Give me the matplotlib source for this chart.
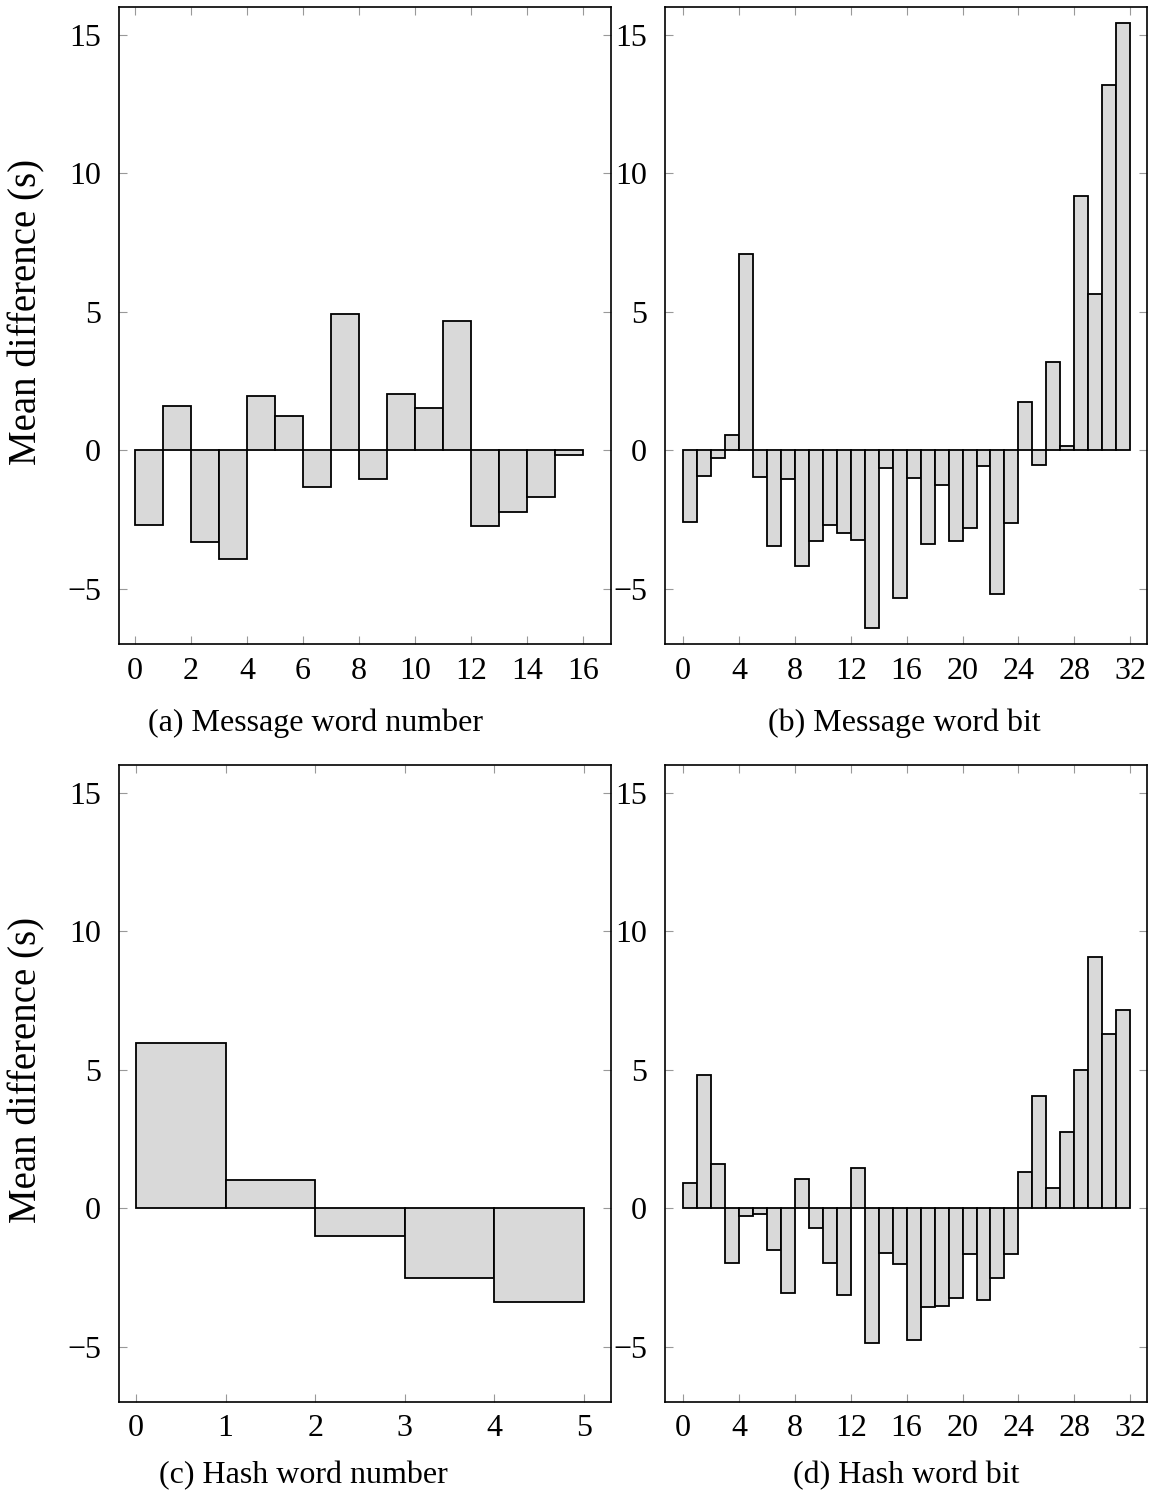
import numpy as np
import matplotlib
matplotlib.use('Agg')
import matplotlib.pyplot as plt

plt.rcParams['font.family'] = ['Liberation Serif', 'DejaVu Serif']
plt.rcParams['axes.unicode_minus'] = True

# (a) mean difference per message word number
msg_word = [-2.70, 1.59, -3.33, -3.94, 1.96, 1.24, -1.34, 4.90,
            -1.04, 2.02, 1.51, 4.66, -2.75, -2.23, -1.69, -0.18]

# (b) mean difference per message word bit
msg_bit = [-2.59, -0.94, -0.29, 0.54, 7.07, -0.96, -3.47, -1.04,
           -4.19, -3.28, -2.69, -3.00, -3.25, -6.42, -0.65, -5.34,
           -0.99, -3.39, -1.25, -3.29, -2.80, -0.56, -5.19, -2.64,
           1.74, -0.53, 3.17, 0.15, 9.16, 5.65, 13.20, 15.43]

# (c) mean difference per hash word number
hash_word = [5.96, 1.01, -0.99, -2.52, -3.40]

# (d) mean difference per hash word bit
hash_bit = [0.92, 4.80, 1.58, -1.98, -0.30, -0.22, -1.51, -3.08,
            1.04, -0.71, -1.99, -3.13, 1.45, -4.88, -1.63, -2.01,
            -4.77, -3.58, -3.52, -3.23, -1.64, -3.33, -2.53, -1.64,
            1.30, 4.06, 0.72, 2.75, 4.98, 9.07, 6.30, 7.16]

captions = ['(a) Message word number', '(b) Message word bit',
            '(c) Hash word number', '(d) Hash word bit']

fig = plt.figure(figsize=(11.55, 14.97), dpi=100)
W, H = 1155, 1497

def px_axes(l, t, r, b):
    return fig.add_axes([l / W, 1 - b / H, (r - l) / W, (b - t) / H])

panels = [
    (msg_word, (119, 7, 611, 644), (-0.57, 17.0), np.arange(0, 17, 2)),
    (msg_bit, (665, 7, 1147, 644), (-1.29, 33.2), np.arange(0, 33, 4)),
    (hash_word, (119, 765, 611, 1402), (-0.19, 5.3), np.arange(0, 6, 1)),
    (hash_bit, (665, 765, 1147, 1402), (-1.29, 33.2), np.arange(0, 33, 4)),
]

for i, (vals, box, xlim, xt) in enumerate(panels):
    ax = px_axes(*box)
    x = np.arange(len(vals))
    ax.bar(x, vals, width=1, align='edge', color='#d9d9d9',
           edgecolor='black', linewidth=1.3, zorder=2)
    ax.set_xlim(*xlim)
    ax.set_ylim(-7, 16)
    ax.set_xticks(xt)
    ax.set_yticks([-5, 0, 5, 10, 15])
    ax.tick_params(direction='in', length=6, width=0.8, color='#999999',
                   top=True, right=True, labelsize=23)
    ax.tick_params(axis='y', pad=13)
    ax.tick_params(axis='x', pad=9)
    for s in ax.spines.values():
        s.set_linewidth(1.2)
    if i % 2 == 0:
        ax.set_ylabel('Mean difference (s)', fontsize=28, va='center')
        ax.yaxis.set_label_coords(-0.187, 0.522)

cap_pos = [(315, 723), (904, 723), (303, 1476), (906, 1476)]
for cap, (cx, cy) in zip(captions, cap_pos):
    fig.text(cx / W, 1 - cy / H, cap, ha='center', va='center', fontsize=23)

fig.savefig('out.png', dpi=100)
